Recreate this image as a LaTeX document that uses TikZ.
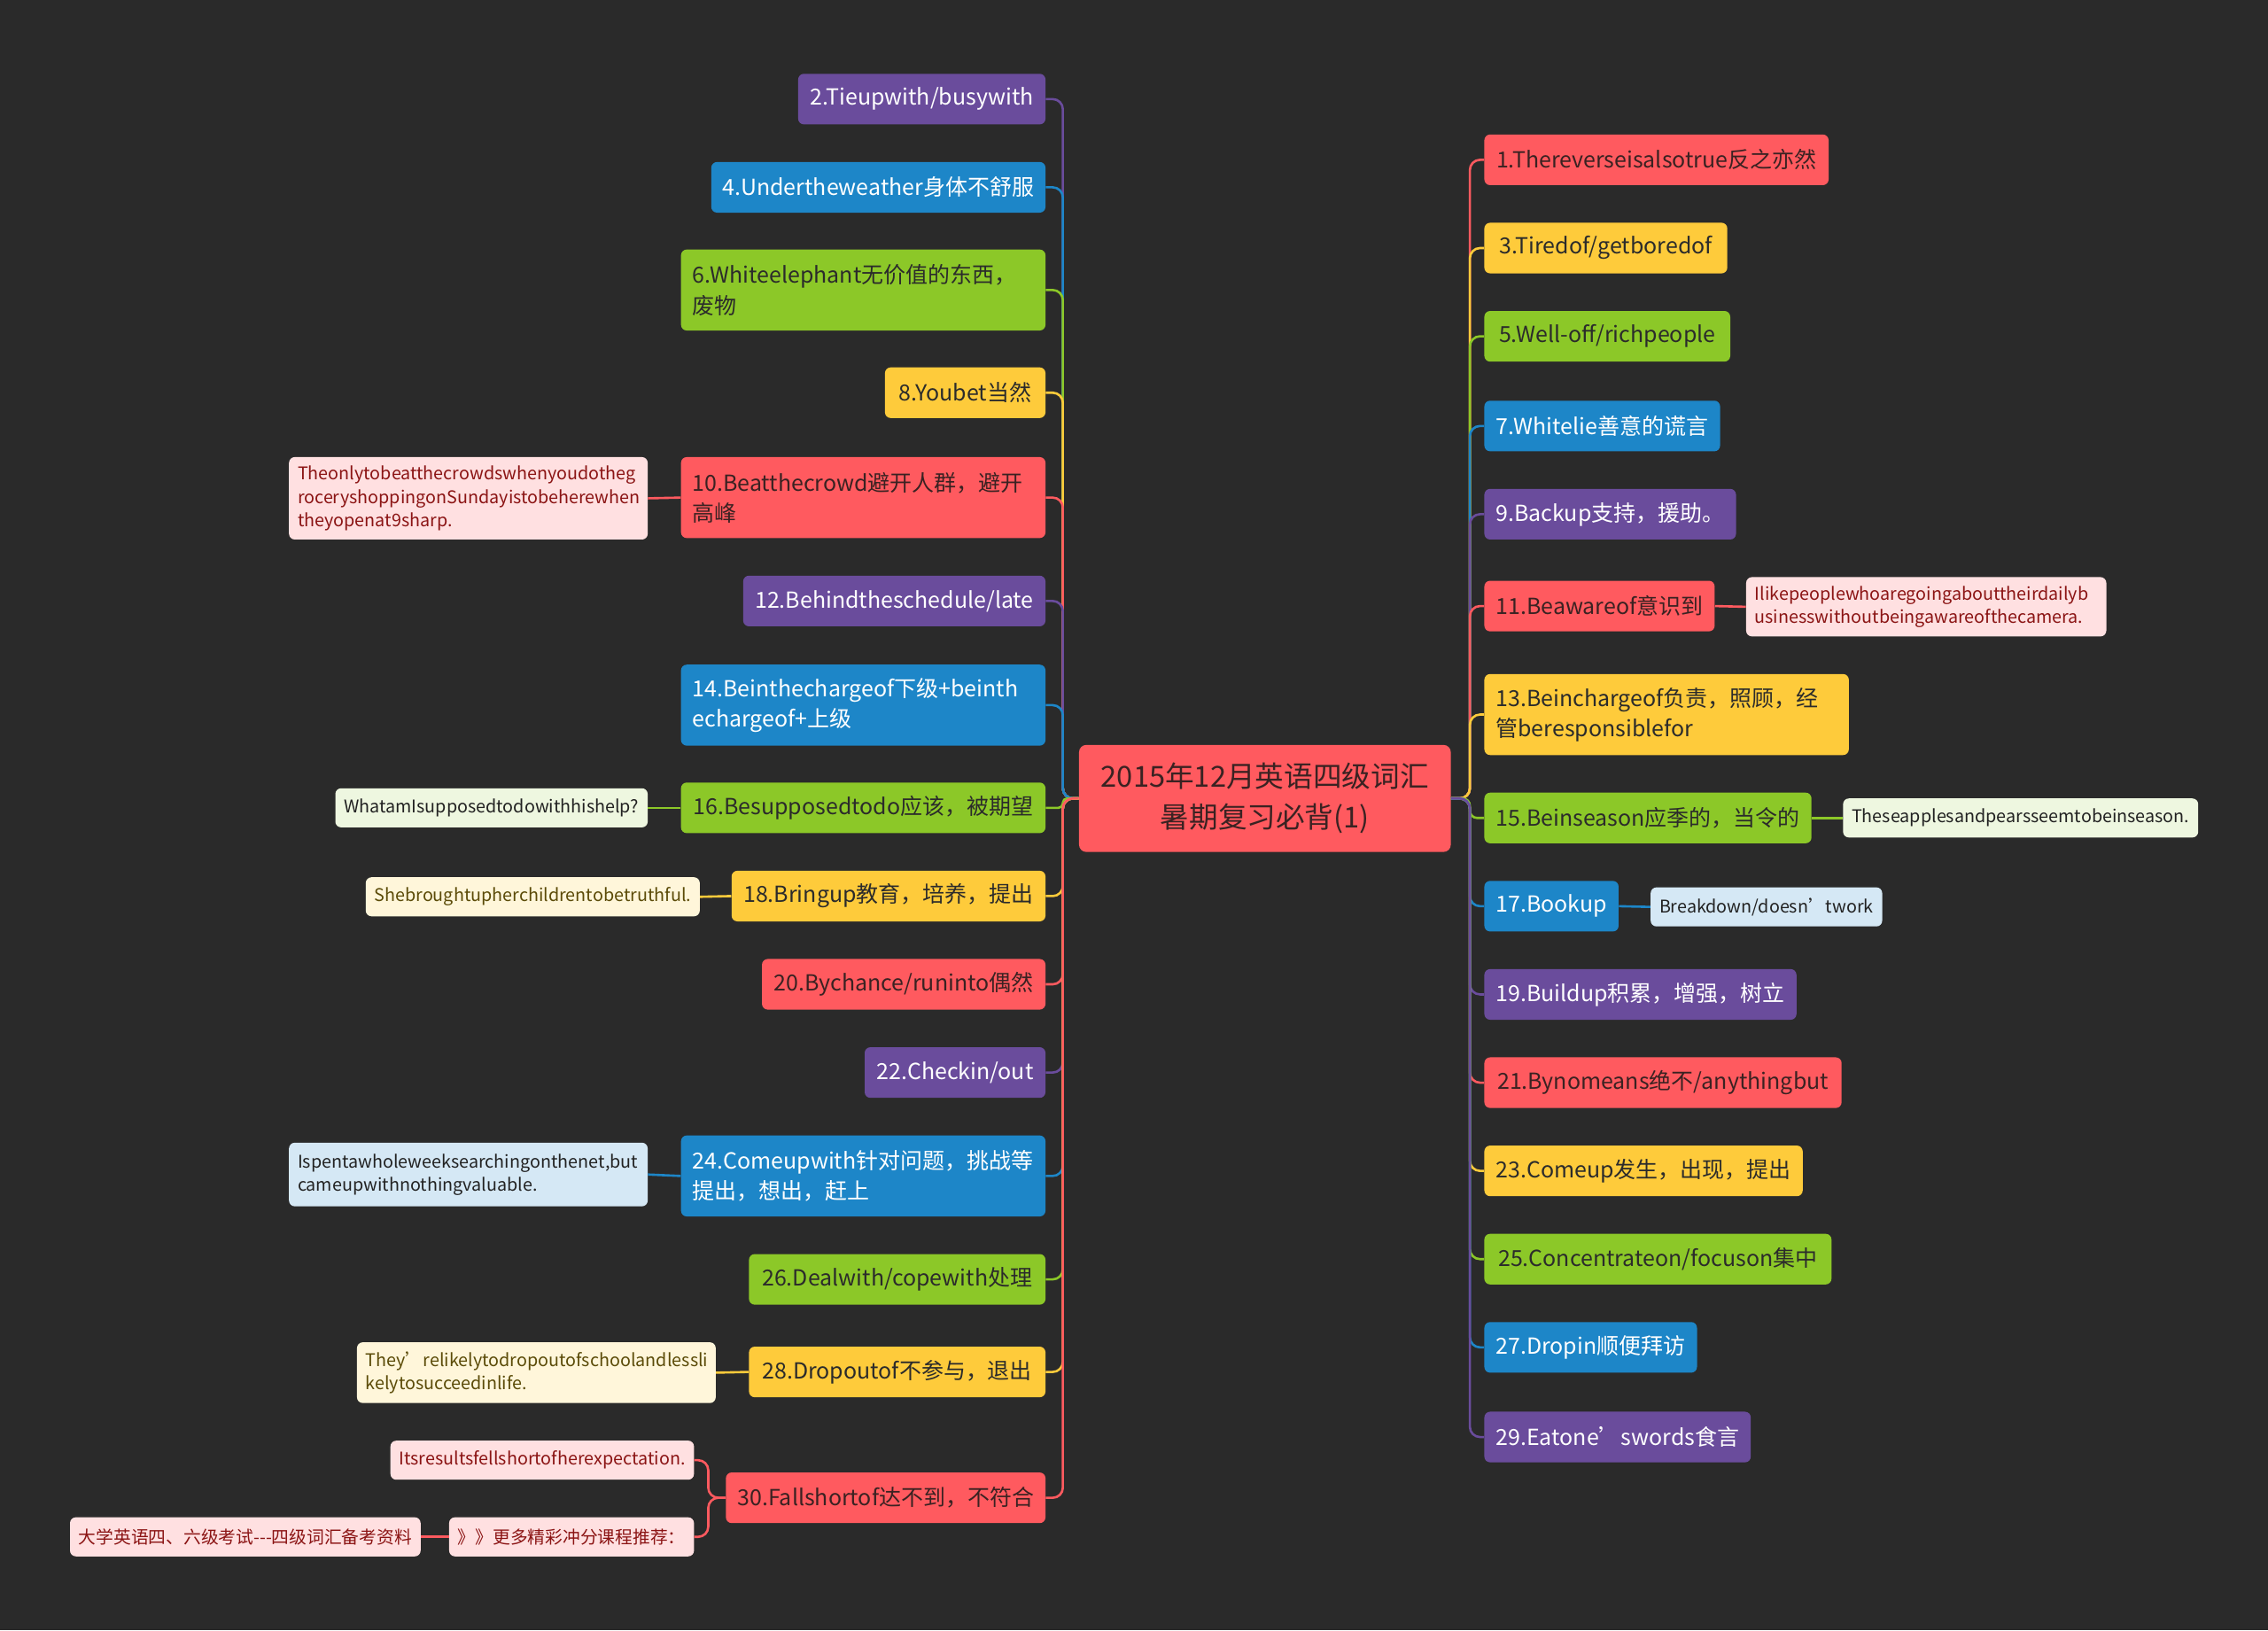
\documentclass[tikz,border=0pt]{standalone}
\usepackage{fontspec}
\setmainfont{Noto Sans CJK SC}
\definecolor{bg}{HTML}{2A2A2A}
\definecolor{cRed}{HTML}{FF5A5F}
\definecolor{cPur}{HTML}{6A4C9C}
\definecolor{cBlu}{HTML}{1D86C8}
\definecolor{cGrn}{HTML}{8CC828}
\definecolor{cYel}{HTML}{FECB3B}
\definecolor{tDark}{HTML}{2B2B2B}
\definecolor{tRedD}{HTML}{3A2222}
\definecolor{pRed}{HTML}{FFE0E1}
\definecolor{pGrn}{HTML}{EEF7E0}
\definecolor{pYel}{HTML}{FFF6DA}
\definecolor{pBlu}{HTML}{D5E8F5}
\definecolor{tRed}{HTML}{8B1414}
\definecolor{tYel}{HTML}{5B4B08}
\definecolor{tSub}{HTML}{222222}
\newcommand\myMain{\fontsize{15.3}{21}\selectfont}
\newcommand\mySub{\fontsize{12.1}{16}\selectfont}
\newcommand\myCtr{\fontsize{20}{28}\selectfont}
\begin{document}
\begin{tikzpicture}[x=1pt,y=-1pt,
 box/.style={rounded corners=4pt, inner xsep=8pt, inner ysep=2pt, font=\myMain, minimum height=35pt},
 two/.style={minimum height=56pt, align=left},
 lft/.style={anchor=east}, rgt/.style={anchor=west},
 kr/.style={fill=cRed,text=tRedD}, kp/.style={fill=cPur,text=white}, kb/.style={fill=cBlu,text=white},
 kg/.style={fill=cGrn,text=tDark}, ky/.style={fill=cYel,text=tDark},
 sub/.style={rounded corners=4pt, inner xsep=6pt, inner ysep=2pt, font=\mySub, minimum height=27pt, align=left},
 sr/.style={fill=pRed,text=tRed}, sg/.style={fill=pGrn,text=tSub}, sy/.style={fill=pYel,text=tYel}, sb/.style={fill=pBlu,text=tSub},
 link/.style={line width=1.6pt, rounded corners=7pt}]
\fill[bg] (0,0) rectangle (1568,1127);
% center
\node[fill=cRed,text=tRedD,rounded corners=5pt,minimum width=257pt,minimum height=74pt,align=center,font=\myCtr] (ctr) at (874.5,552) {2015年12月英语四级词汇\\暑期复习必背(1)};
% left
\node[box,lft,kp,minimum width=171pt] (n2) at (723,68.5) {2.Tieupwith/busywith};
\node[box,lft,kb,minimum width=231pt] (n4) at (723,129.5) {4.Undertheweather身体不舒服};
\node[box,two,lft,kg,text width=236pt] (n6) at (723,200.5) {6.Whiteelephant无价值的东西，\\废物};
\node[box,lft,ky,minimum width=111pt] (n8) at (723,271.5) {8.Youbet当然};
\node[box,two,lft,kr,text width=236pt] (n10) at (723,344) {10.Beatthecrowd避开人群，避开\\高峰};
\node[box,lft,kp,minimum width=209pt] (n12) at (723,415.5) {12.Behindtheschedule/late};
\node[box,two,lft,kb,text width=236pt] (n14) at (723,487.5) {14.Beinthechargeof下级+beinth\\echargeof+上级};
\node[box,lft,kg,minimum width=252pt] (n16) at (723,558.5) {16.Besupposedtodo应该，被期望};
\node[box,lft,ky,minimum width=217pt] (n18) at (723,619.5) {18.Bringup教育，培养，提出};
\node[box,lft,kr,minimum width=196pt] (n20) at (723,680.5) {20.Bychance/runinto偶然};
\node[box,lft,kp,minimum width=125pt] (n22) at (723,741.5) {22.Checkin/out};
\node[box,two,lft,kb,text width=236pt] (n24) at (723,813) {24.Comeupwith针对问题，挑战等\\提出，想出，赶上};
\node[box,lft,kg,minimum width=205pt] (n26) at (723,884.5) {26.Dealwith/copewith处理};
\node[box,lft,ky,minimum width=205pt] (n28) at (723,948.5) {28.Dropoutof不参与，退出};
\node[box,lft,kr,minimum width=220pt] (n30) at (723,1035.5) {30.Fallshortof达不到，不符合};
% right
\node[box,rgt,kr,minimum width=238pt] (n1) at (1026,110.5) {1.Thereverseisalsotrue反之亦然};
\node[box,rgt,ky,minimum width=168pt] (n3) at (1026,171.5) {3.Tiredof/getboredof};
\node[box,rgt,kg,minimum width=170pt] (n5) at (1026,232.5) {5.Well-off/richpeople};
\node[box,rgt,kb,minimum width=163pt] (n7) at (1026,294.5) {7.Whitelie善意的谎言};
\node[box,rgt,kp,minimum width=171pt] (n9) at (1026,355.5) {9.Backup支持，援助。};
\node[box,rgt,kr,minimum width=158pt] (n11) at (1026,419) {11.Beawareof意识到};
\node[box,two,rgt,ky,text width=236pt] (n13) at (1026,494) {13.Beinchargeof负责，照顾，经\\管beresponsiblefor};
\node[box,rgt,kg,minimum width=225pt] (n15) at (1026,565.5) {15.Beinseason应季的，当令的};
\node[box,rgt,kb,minimum width=92pt] (n17) at (1026,626.5) {17.Bookup};
\node[box,rgt,kp,minimum width=214pt] (n19) at (1026,687.5) {19.Buildup积累，增强，树立};
\node[box,rgt,kr,minimum width=247pt] (n21) at (1026,748.5) {21.Bynomeans绝不/anythingbut};
\node[box,rgt,ky,minimum width=220pt] (n23) at (1026,809.5) {23.Comeup发生，出现，提出};
\node[box,rgt,kg,minimum width=240pt] (n25) at (1026,870.5) {25.Concentrateon/focuson集中};
\node[box,rgt,kb,minimum width=147pt] (n27) at (1026,931.5) {27.Dropin顺便拜访};
\node[box,rgt,kp,minimum width=183pt] (n29) at (1026,993.5) {29.Eatone’swords食言};
% sub topics
\node[sub,lft,sr,text width=236pt,minimum height=57pt] (g10) at (448,344.5) {Theonlytobeatthecrowdswhenyoudotheg\\roceryshoppingonSundayistobeherewhen\\theyopenat9sharp.};
\node[sub,lft,sg,minimum width=215pt] (g16) at (448,558.5) {WhatamIsupposedtodowithhishelp?};
\node[sub,lft,sy,minimum width=229pt] (g18) at (484,620) {Shebroughtupherchildrentobetruthful.};
\node[sub,lft,sb,text width=236pt,minimum height=44pt] (g24) at (448,812) {Ispentawholeweeksearchingonthenet,but\\cameupwithnothingvaluable.};
\node[sub,lft,sy,text width=236pt,minimum height=42pt] (g28) at (495,949) {They’relikelytodropoutofschoolandlessli\\kelytosucceedinlife.};
\node[sub,lft,sr,minimum width=208pt] (g30a) at (480,1009.5) {Itsresultsfellshortofherexpectation.};
\node[sub,lft,sr,minimum width=166pt] (g30b) at (480,1062.5) {》》更多精彩冲分课程推荐：};
\node[sub,lft,sr,minimum width=240pt] (g30c) at (291,1062.5) {大学英语四、六级考试-{}-{}-四级词汇备考资料};
\node[sub,rgt,sr,text width=237pt,minimum height=41pt] (g11) at (1207,419.5) {Ilikepeoplewhoaregoingabouttheirdailyb\\usinesswithoutbeingawareofthecamera.};
\node[sub,rgt,sg,minimum width=243pt] (g15) at (1274,565.5) {Theseapplesandpearsseemtobeinseason.};
\node[sub,rgt,sb,minimum width=159pt] (g17) at (1141,627) {Breakdown/doesn’twork};
% left links
\draw[link,cPur] (ctr.west) -- ++(-11,0) |- (n2.east);
\draw[link,cBlu] (ctr.west) -- ++(-11,0) |- (n4.east);
\draw[link,cGrn] (ctr.west) -- ++(-11,0) |- (n6.east);
\draw[link,cYel] (ctr.west) -- ++(-11,0) |- (n8.east);
\draw[link,cRed] (ctr.west) -- ++(-11,0) |- (n10.east);
\draw[link,cPur] (ctr.west) -- ++(-11,0) |- (n12.east);
\draw[link,cBlu] (ctr.west) -- ++(-11,0) |- (n14.east);
\draw[link,cGrn,rounded corners=3pt] (ctr.west) -- ++(-11,0) |- (n16.east);
\draw[link,cYel] (ctr.west) -- ++(-11,0) |- (n18.east);
\draw[link,cRed] (ctr.west) -- ++(-11,0) |- (n20.east);
\draw[link,cPur] (ctr.west) -- ++(-11,0) |- (n22.east);
\draw[link,cBlu] (ctr.west) -- ++(-11,0) |- (n24.east);
\draw[link,cGrn] (ctr.west) -- ++(-11,0) |- (n26.east);
\draw[link,cYel] (ctr.west) -- ++(-11,0) |- (n28.east);
\draw[link,cRed] (ctr.west) -- ++(-11,0) |- (n30.east);
% right links
\draw[link,cRed] (ctr.east) -- ++(13,0) |- (n1.west);
\draw[link,cYel] (ctr.east) -- ++(13,0) |- (n3.west);
\draw[link,cGrn] (ctr.east) -- ++(13,0) |- (n5.west);
\draw[link,cBlu] (ctr.east) -- ++(13,0) |- (n7.west);
\draw[link,cPur] (ctr.east) -- ++(13,0) |- (n9.west);
\draw[link,cRed] (ctr.east) -- ++(13,0) |- (n11.west);
\draw[link,cYel] (ctr.east) -- ++(13,0) |- (n13.west);
\draw[link,cGrn,rounded corners=5pt] (ctr.east) -- ++(13,0) |- (n15.west);
\draw[link,cBlu] (ctr.east) -- ++(13,0) |- (n17.west);
\draw[link,cPur] (ctr.east) -- ++(13,0) |- (n19.west);
\draw[link,cRed] (ctr.east) -- ++(13,0) |- (n21.west);
\draw[link,cYel] (ctr.east) -- ++(13,0) |- (n23.west);
\draw[link,cGrn] (ctr.east) -- ++(13,0) |- (n25.west);
\draw[link,cBlu] (ctr.east) -- ++(13,0) |- (n27.west);
\draw[link,cPur] (ctr.east) -- ++(13,0) |- (n29.west);
% sub links
\draw[link,cRed] (n10.west) -- (g10.east);
\draw[link,cGrn] (n16.west) -- (g16.east);
\draw[link,cYel] (n18.west) -- (g18.east);
\draw[link,cBlu] (n24.west) -- (g24.east);
\draw[link,cYel] (n28.west) -- (g28.east);
\draw[link,cRed] (n30.west) -- ++(-12,0) |- (g30a.east);
\draw[link,cRed] (n30.west) -- ++(-12,0) |- (g30b.east);
\draw[link,cRed] (g30b.west) -- (g30c.east);
\draw[link,cRed] (n11.east) -- (g11.west);
\draw[link,cGrn] (n15.east) -- (g15.west);
\draw[link,cBlu] (n17.east) -- (g17.west);
\end{tikzpicture}
\end{document}
